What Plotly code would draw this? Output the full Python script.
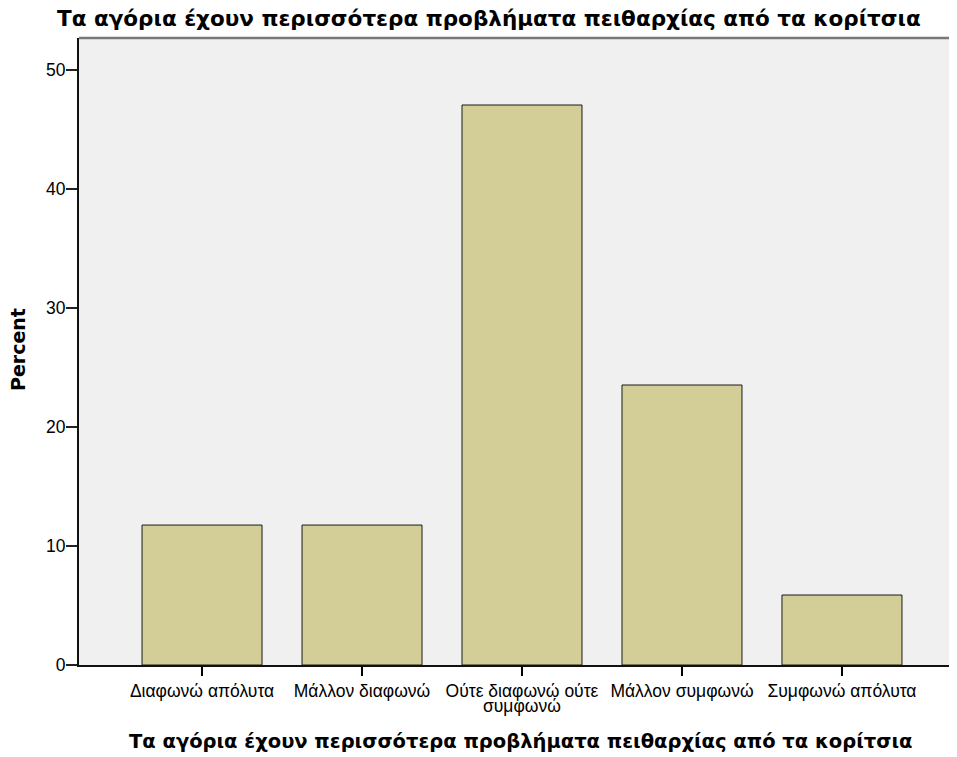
import plotly.graph_objects as go

categories = ["Διαφωνώ απόλυτα", "Μάλλον διαφωνώ", "Ούτε διαφωνώ ούτε<br>συμφωνώ",
              "Μάλλον συμφωνώ", "Συμφωνώ απόλυτα"]
percent = [11.76, 11.76, 47.06, 23.53, 5.88]
y_ticks = [0, 10, 20, 30, 40, 50]
title_text = "Τα αγόρια έχουν περισσότερα προβλήματα πειθαρχίας από τα κορίτσια"
y_title = "Percent"

x_pos = list(range(len(categories)))
first_lines = [c.split("<br>")[0] for c in categories]
second_lines = [c.split("<br>")[1] if "<br>" in c else "" for c in categories]

tick_font = "Liberation Sans, Arial, sans-serif"
bold_font = "DejaVu Sans, Verdana, sans-serif"

W, H = 957, 749
L, T = 71, 30
B = H - 657

fig = go.Figure()
fig.add_trace(go.Bar(
    x=x_pos, y=percent,
    width=0.75,
    marker=dict(color="#d3ce97", line=dict(color="#1a1a1a", width=1)),
))

plot_w = W - L
annotations = [
    dict(text="<b>" + title_text + "</b>", xref="paper", yref="paper",
         x=(47 - L) / plot_w, y=1.0, yshift=20, xanchor="left", yanchor="middle",
         showarrow=False, font=dict(size=21.5, family=bold_font, color="#000")),
    dict(text="<b>" + title_text + "</b>", xref="paper", yref="paper",
         x=(512 - L) / plot_w, y=0, yshift=-76, xanchor="center", yanchor="middle",
         showarrow=False, font=dict(size=19.5, family=bold_font, color="#000")),
    dict(text="<b>" + y_title + "</b>", xref="paper", yref="paper",
         x=(10 - L) / plot_w, y=0.5024, xanchor="center", yanchor="middle", textangle=-90,
         showarrow=False, font=dict(size=19, family=bold_font, color="#000")),
]
for xi, s in zip(x_pos, second_lines):
    if s:
        annotations.append(dict(text=s, xref="x", yref="y", x=xi, y=0, yshift=-41,
                                xanchor="center", yanchor="middle", showarrow=False,
                                font=dict(size=17.5, family=tick_font, color="#000")))

fig.update_layout(
    width=W, height=H,
    margin=dict(l=L, r=0, t=T, b=B, pad=0),
    paper_bgcolor="white", plot_bgcolor="#f0f0f0",
    showlegend=False,
    font=dict(family=tick_font, color="#000000", size=17.5),
    xaxis=dict(
        range=[-0.769, 4.769], tickmode="array",
        tickvals=x_pos, ticktext=first_lines,
        ticks="outside", ticklen=9, tickcolor="#000", tickwidth=1.5,
        showline=True, linecolor="#111", linewidth=2,
        showgrid=False, zeroline=False,
        tickfont=dict(size=17.5, family=tick_font),
    ),
    yaxis=dict(
        range=[0, 52.69], tickmode="array", tickvals=y_ticks,
        ticks="outside", ticklen=11, tickcolor="#222", tickwidth=2,
        showline=True, linecolor="#111", linewidth=2,
        showgrid=False, zeroline=False,
        tickfont=dict(size=17.5, family=tick_font),
        ticklabelstandoff=-3,
    ),
    shapes=[dict(type="line", xref="paper", yref="paper", x0=0, x1=1, y0=1, y1=1,
                 line=dict(color="#777777", width=2.5))],
    annotations=annotations,
)

fig.write_html("out.html")
